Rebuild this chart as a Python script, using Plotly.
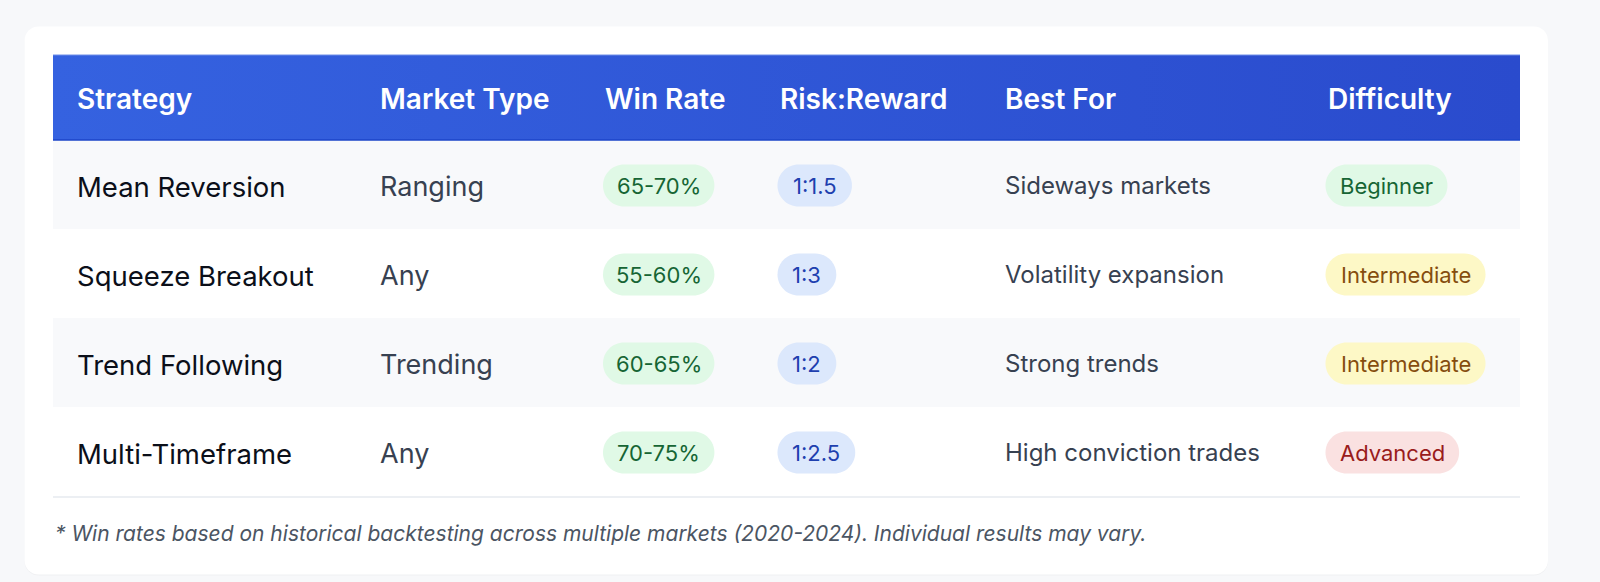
import plotly.graph_objects as go

# Table content
HEADERS = ["Strategy", "Market Type", "Win Rate", "Risk:Reward", "Best For", "Difficulty"]
STRATEGIES = ["Mean Reversion", "Squeeze Breakout", "Trend Following", "Multi-Timeframe"]
MARKET_TYPES = ["Ranging", "Any", "Trending", "Any"]
WIN_RATES = ["65-70%", "55-60%", "60-65%", "70-75%"]
RISK_REWARD = ["1:1.5", "1:3", "1:2", "1:2.5"]
BEST_FOR = ["Sideways markets", "Volatility expansion", "Strong trends", "High conviction trades"]
DIFFICULTY = ["Beginner", "Intermediate", "Intermediate", "Advanced"]
FOOTNOTE = ("* Win rates based on historical backtesting across multiple markets "
            "(2020-2024). Individual results may vary.")

# badge colours (background, text)
GREEN = ("#e0f9e6", "#166534")
BLUE = ("#dce8fc", "#1e40af")
DIFF_COLORS = {"Beginner": GREEN, "Intermediate": ("#fdf8c6", "#854d0e"),
               "Advanced": ("#fae1e1", "#991b1b")}

FONT = "Inter"
W, H = 1600, 582

# layout geometry (pixels, y down)
CARD = (24.5, 26.5, 1548, 574.5)
TABLE_X0, TABLE_X1 = 53, 1520
HEAD_Y0, HEAD_Y1 = 55, 140
ROW_H = 89
COL_X = [75, 377.5, 603, 777.5, 1003, 1325.5]
BADGE_SIZE = 22
BADGE_PAD = 15
BADGE_H = 42

# rough Inter advance widths in em, for sizing the pills
CHAR_W = {"a": .56, "b": .61, "c": .55, "d": .61, "e": .57, "g": .61, "i": .24, "m": .87,
          "n": .59, "r": .37, "t": .35, "v": .54, "A": .68, "B": .64, "I": .26,
          "1": .45, "%": .86, "-": .44, ":": .26, ".": .26, " ": .28}


def text_width(s, size):
    return sum(CHAR_W.get(c, .6) for c in s) * size


def rounded_rect(x0, y0, x1, y1, r):
    k = r * 0.5523  # cubic approximation of a quarter circle
    return (f"M{x0 + r},{y0} L{x1 - r},{y0} "
            f"C{x1 - r + k},{y0} {x1},{y0 + r - k} {x1},{y0 + r} "
            f"L{x1},{y1 - r} C{x1},{y1 - r + k} {x1 - r + k},{y1} {x1 - r},{y1} "
            f"L{x0 + r},{y1} C{x0 + r - k},{y1} {x0},{y1 - r + k} {x0},{y1 - r} "
            f"L{x0},{y0 + r} C{x0},{y0 + r - k} {x0 + r - k},{y0} {x0 + r},{y0} Z")


fig = go.Figure()
shapes = []
annotations = []

# card with a faint shadow
shapes.append(dict(type="path", path=rounded_rect(CARD[0], CARD[1] + 1, CARD[2], CARD[3] + 1, 14),
                   fillcolor="rgba(0,0,0,0.03)", line_width=0, layer="below"))
shapes.append(dict(type="path", path=rounded_rect(*CARD, 14),
                   fillcolor="white", line_width=0, layer="below"))

# header band with gradient
fig.add_trace(go.Scatter(
    x=[TABLE_X0, TABLE_X1, TABLE_X1, TABLE_X0, TABLE_X0],
    y=[HEAD_Y0, HEAD_Y0, HEAD_Y1, HEAD_Y1, HEAD_Y0],
    mode="lines", fill="toself", line=dict(width=0),
    fillgradient=dict(type="horizontal", colorscale=[[0, "#3562e0"], [1, "#2a4bcd"]]),
    hoverinfo="skip", showlegend=False,
))
shapes.append(dict(type="line", x0=TABLE_X0, x1=TABLE_X1, y0=HEAD_Y1, y1=HEAD_Y1,
                   line=dict(color="#1d44c9", width=1.5)))
shapes.append(dict(type="line", x0=TABLE_X0, x1=TABLE_X1, y0=HEAD_Y0, y1=HEAD_Y0,
                   line=dict(color="#6f8ee8", width=1)))

for x, h in zip(COL_X, HEADERS):
    annotations.append(dict(x=x, y=(HEAD_Y0 + HEAD_Y1) / 2 + 1, text=h, showarrow=False,
                            xanchor="left", yanchor="middle",
                            font=dict(family=FONT, size=28, color="white", weight=600)))

# body rows
for i in range(len(STRATEGIES)):
    y0 = HEAD_Y1 + i * ROW_H
    y1 = y0 + ROW_H
    yc = (y0 + y1) / 2 + 1
    if i % 2 == 0:
        shapes.append(dict(type="rect", x0=TABLE_X0, x1=TABLE_X1, y0=y0, y1=y1,
                           fillcolor="#f8f9fb", line_width=0, layer="below"))

    annotations.append(dict(x=COL_X[0], y=yc + 1, text=STRATEGIES[i], showarrow=False,
                            xanchor="left", yanchor="middle",
                            font=dict(family=FONT, size=27.5, color="#0b0f19", weight=400)))
    annotations.append(dict(x=COL_X[1], y=yc + 1, text=MARKET_TYPES[i], showarrow=False,
                            xanchor="left", yanchor="middle",
                            font=dict(family=FONT, size=27, color="#374151")))
    annotations.append(dict(x=COL_X[4], y=yc, text=BEST_FOR[i], showarrow=False,
                            xanchor="left", yanchor="middle",
                            font=dict(family=FONT, size=24, color="#374151")))

    pills = [(COL_X[2], WIN_RATES[i], GREEN),
             (COL_X[3], RISK_REWARD[i], BLUE),
             (COL_X[5], DIFFICULTY[i], DIFF_COLORS[DIFFICULTY[i]])]
    for bx, label, (bg, fg) in pills:
        bw = text_width(label, BADGE_SIZE) + 2 * BADGE_PAD
        shapes.append(dict(type="path",
                           path=rounded_rect(bx, yc - BADGE_H / 2, bx + bw, yc + BADGE_H / 2,
                                             BADGE_H / 2),
                           fillcolor=bg, line_width=0, layer="above"))
        annotations.append(dict(x=bx + bw / 2, y=yc, text=label, showarrow=False,
                                xanchor="center", yanchor="middle",
                                font=dict(family=FONT, size=BADGE_SIZE, color=fg)))

# bottom rule of the table
table_bottom = HEAD_Y1 + len(STRATEGIES) * ROW_H
shapes.append(dict(type="line", x0=TABLE_X0, x1=TABLE_X1, y0=table_bottom + 1,
                   y1=table_bottom + 1, line=dict(color="#eceff3", width=2)))

annotations.append(dict(x=TABLE_X0, y=533, text=FOOTNOTE, showarrow=False,
                        xanchor="left", yanchor="middle",
                        font=dict(family=FONT, size=21, color="#4b5563", style="italic")))

fig.update_layout(
    width=W, height=H,
    margin=dict(l=0, r=0, t=0, b=0),
    paper_bgcolor="#f7f8fa", plot_bgcolor="#f7f8fa",
    xaxis=dict(range=[0, W], visible=False, fixedrange=True),
    yaxis=dict(range=[H, 0], visible=False, fixedrange=True),
    shapes=shapes, annotations=annotations,
    showlegend=False,
)

fig.write_html("out.html", config={"displayModeBar": False},
               post_script="document.body.style.margin='0';")
